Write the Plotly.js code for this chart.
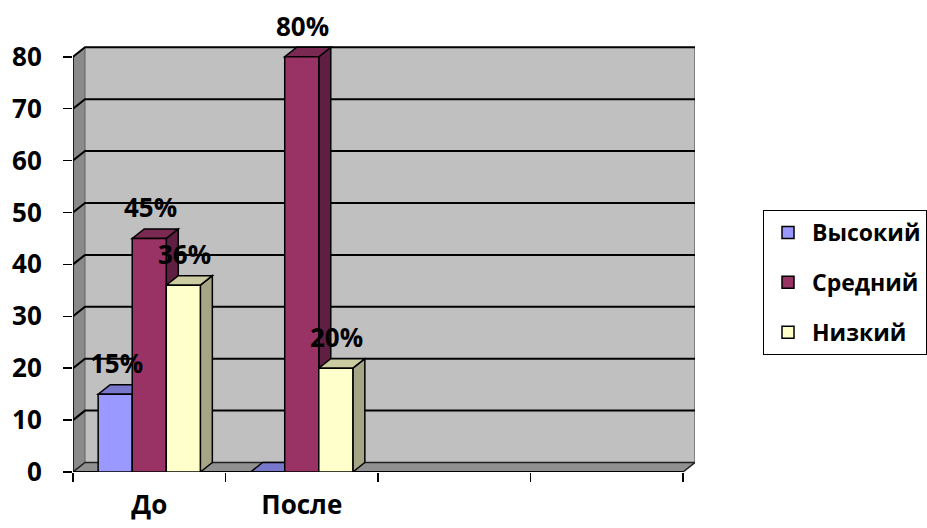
<!DOCTYPE html>
<html>
<head>
<meta charset="utf-8">
<script src="https://cdn.plot.ly/plotly-3.0.1.min.js"></script>
<style>html,body{margin:0;padding:0;background:#fff;}#chart{width:927px;height:528px;}</style>
</head>
<body>
<div id="chart"></div>
<script>
// ---- data ----
const categories = ['До', 'После'];
const seriesNames = ['Высокий', 'Средний', 'Низкий'];
const vysokiy = [15, 0];
const sredniy = [45, 80];
const nizkiy = [36, 20];
const yTickStep = 10;
const yTickMax = 80;

// ---- styling ----
const frontColors = ['#9999ff', '#993366', '#ffffcc'];
const sideColors = ['#6b6bb3', '#5e1f42', '#a6a686'];
const topColors = ['#7777cc', '#7a2952', '#cccca3'];
const FONT = '"Open Sans", "DejaVu Sans", sans-serif';

const W = 927, H = 528;
const M = {l: 73, r: 232, t: 36, b: 56};
const plotW = W - M.l - M.r, plotH = H - M.t - M.b;
const nSlots = 4;
const depthPxX = 12, depthPxY = 9.5;
const xRange = [-0.5, nSlots - 0.5 + depthPxX / 152.5];
const yRange = [0, 84];
const pxX = plotW / (xRange[1] - xRange[0]);
const pxY = plotH / (yRange[1] - yRange[0]);
const dx = depthPxX / pxX, dy = depthPxY / pxY;
const bargap = 0.33;
const barW = (1 - bargap) / 3;

const series = [vysokiy, sredniy, nizkiy];
const xIdx = categories.map((c, i) => i);

const traces = series.map((vals, i) => ({
  type: 'bar',
  name: seriesNames[i],
  x: xIdx,
  y: vals,
  legendgroup: 'g' + i,
  marker: {color: frontColors[i], line: {color: '#000', width: 1.5}},
  hoverinfo: 'none'
}));

const shapes = [];
const x0 = -0.5, x1 = nSlots - 0.5;
const P = (pts) => 'M' + pts.map(p => p[0] + ',' + p[1]).join('L') + 'Z';
// back wall
shapes.push({type: 'path', layer: 'below', xref: 'x', yref: 'y',
  path: P([[x0 + dx, dy], [x1 + dx, dy], [x1 + dx, yTickMax + dy], [x0 + dx, yTickMax + dy]]),
  fillcolor: '#c0c0c0', line: {width: 0}});
// right wall edge
shapes.push({type: 'line', layer: 'below', xref: 'x', yref: 'y',
  x0: x1 + dx, x1: x1 + dx, y0: dy, y1: yTickMax + dy, line: {color: '#808080', width: 2}});
// left wall
shapes.push({type: 'path', layer: 'below', xref: 'x', yref: 'y',
  path: P([[x0, 0], [x0 + dx, dy], [x0 + dx, yTickMax + dy], [x0, yTickMax]]),
  fillcolor: '#8a8a8a', line: {color: '#606060', width: 1}});
// floor
shapes.push({type: 'path', layer: 'below', xref: 'x', yref: 'y',
  path: P([[x0, 0], [x1, 0], [x1 + dx, dy], [x0 + dx, dy]]),
  fillcolor: '#909090', line: {color: '#202020', width: 1.5}});
// gridlines on walls
for (let v = yTickStep; v <= yTickMax; v += yTickStep) {
  shapes.push({type: 'path', layer: 'below', xref: 'x', yref: 'y',
    path: 'M' + x0 + ',' + v + 'L' + (x0 + dx) + ',' + (v + dy) + 'L' + (x1 + dx) + ',' + (v + dy),
    line: {color: '#000', width: 2}});
}
// y axis line and x axis line
shapes.push({type: 'line', layer: 'below', xref: 'x', yref: 'y',
  x0: x0, x1: x0, y0: 0, y1: yTickMax, line: {color: '#000', width: 1.5}});
shapes.push({type: 'line', layer: 'below', xref: 'x', yref: 'y',
  x0: x0, x1: x1, y0: 0, y1: 0, line: {color: '#000', width: 2}});
// 3D faces of bars
categories.forEach((c, j) => {
  series.forEach((vals, i) => {
    const v = vals[j];
    const left = j + (i - 1.5) * barW, right = left + barW;
    shapes.push({type: 'path', layer: 'below', xref: 'x', yref: 'y',
      path: P([[right, 0], [right + dx, dy], [right + dx, v + dy], [right, v]]),
      fillcolor: sideColors[i], line: {color: '#000', width: 1.5}});
    shapes.push({type: 'path', layer: 'below', xref: 'x', yref: 'y',
      path: P([[left, v], [right, v], [right + dx, v + dy], [left + dx, v + dy]]),
      fillcolor: topColors[i], line: {color: '#000', width: 1.5}});
  });
});

const annotations = [];
series.forEach((vals, i) => {
  vals.forEach((v, j) => {
    if (v > 0) {
      annotations.push({x: j + (i - 1) * barW, y: v, xref: 'x', yref: 'y',
        text: v + '%', showarrow: false, yshift: 31, xshift: 1,
        font: {family: FONT, size: 26, color: '#000', weight: 'bold'}});
    }
  });
});

const layout = {
  width: W, height: H,
  margin: {l: M.l, r: M.r, t: M.t, b: M.b, autoexpand: false},
  paper_bgcolor: '#fff', plot_bgcolor: 'rgba(0,0,0,0)',
  barmode: 'group', bargap: bargap, bargroupgap: 0,
  showlegend: true,
  xaxis: {range: xRange, tickmode: 'array', tickvals: xIdx, ticktext: categories,
    ticks: '', showgrid: false, zeroline: false, showline: false,
    tickfont: {family: FONT, size: 26, color: '#000', weight: 'bold'},
    ticklabelstandoff: 15,
    minor: {tickmode: 'array', tickvals: [-0.5, 0.5, 1.5, 2.5, 3.5], ticks: 'outside', ticklen: 9, tickcolor: '#000', tickwidth: 1.5, showgrid: false}},
  yaxis: {range: yRange, tick0: 0, dtick: yTickStep, ticks: 'outside', ticklen: 9, tickcolor: '#000', tickwidth: 1.5,
    showgrid: false, zeroline: false, showline: false,
    tickfont: {family: FONT, size: 26, color: '#000', weight: 'bold'},
    ticklabelstandoff: 16},
  legend: {x: (763 - M.l) / plotW, y: (M.t + plotH - 210) / plotH, xanchor: 'left', yanchor: 'top',
    xref: 'paper', yref: 'paper',
    bgcolor: '#fff', bordercolor: '#000', borderwidth: 1,
    traceorder: 'grouped', tracegroupgap: 17, itemwidth: 38,
    font: {family: FONT, size: 23, color: '#000', weight: 'bold'}},
  shapes: shapes,
  annotations: annotations
};

Plotly.newPlot('chart', traces, layout, {staticPlot: true, displayModeBar: false});
</script>
</body>
</html>
